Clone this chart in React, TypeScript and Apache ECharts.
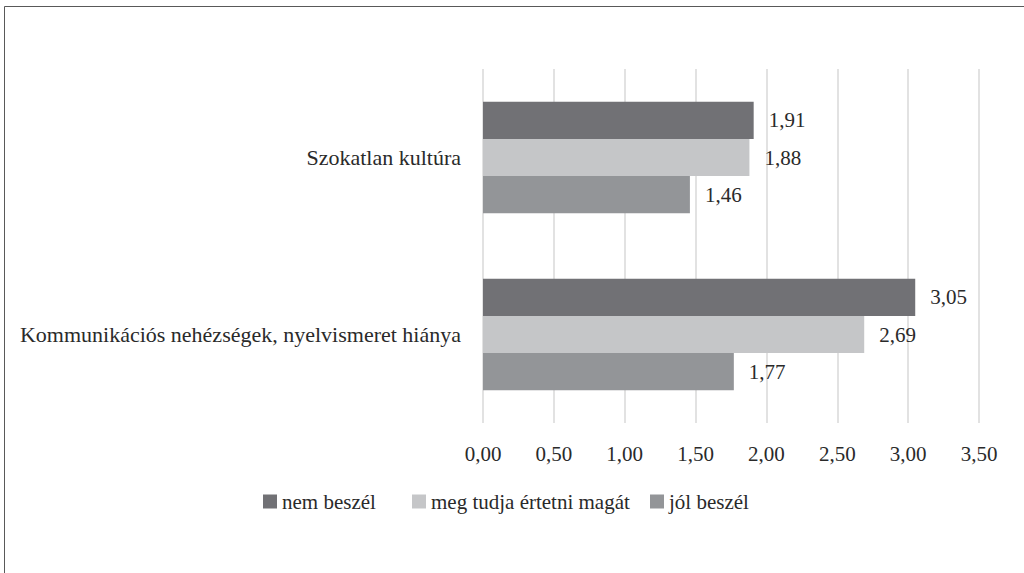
import React, { useEffect, useRef } from "react";
import * as echarts from "echarts";

const categories = ["Szokatlan kultúra", "Kommunikációs nehézségek, nyelvismeret hiánya"];
const seriesNames = ["nem beszél", "meg tudja értetni magát", "jól beszél"];
const nemBeszel = [1.91, 3.05];
const megTudja = [1.88, 2.69];
const jolBeszel = [1.46, 1.77];
const colors = ["#717175", "#c5c6c8", "#939598"];

const FONT = "Times New Roman, Liberation Serif, DejaVu Serif, serif";
const TEXT = "#2a2a2a";
const fmt = (v: number) => v.toFixed(2).replace(".", ",");

export default function App() {
  const ref = useRef<HTMLDivElement>(null);
  useEffect(() => {
    if (!ref.current) return;
    const chart = echarts.init(ref.current, undefined, { renderer: "svg" });
    const values = [nemBeszel, megTudja, jolBeszel];
    const legendLefts = [258, 407, 645];
    chart.setOption({
      animation: false,
      backgroundColor: "#ffffff",
      textStyle: { fontFamily: FONT },
      graphic: [
        {
          type: "rect",
          shape: { x: 4.5, y: 6.5, width: 1100, height: 700 },
          style: { fill: "none", stroke: "#595959", lineWidth: 1 },
          silent: true,
        },
      ],
      legend: seriesNames.map((name, i) => ({
        left: legendLefts[i],
        top: 486,
        itemWidth: 14,
        itemHeight: 14,
        itemGap: 0,
        icon: "rect",
        textStyle: { fontFamily: FONT, fontSize: 21, color: TEXT, padding: [0, 0, 0, 0] },
        data: [name],
      })),
      grid: { left: 483, right: 45, top: 69, bottom: 150, containLabel: false },
      xAxis: {
        type: "value",
        min: 0,
        max: 3.5,
        interval: 0.5,
        axisLine: { show: false },
        axisTick: { show: false },
        splitLine: { show: true, lineStyle: { color: "#d9d9d9", width: 1.5 } },
        axisLabel: {
          margin: 20,
          fontFamily: FONT,
          fontSize: 21,
          color: TEXT,
          formatter: (v: number) => fmt(v),
        },
      },
      yAxis: {
        type: "category",
        inverse: true,
        data: categories,
        axisLine: { show: false },
        axisTick: { show: false },
        axisLabel: { margin: 22, fontFamily: FONT, fontSize: 22, color: TEXT },
      },
      series: seriesNames.map((name, i) => ({
        name,
        type: "bar",
        data: values[i],
        barGap: "0%",
        barCategoryGap: "37%",
        itemStyle: { color: colors[i] },
        label: {
          show: true,
          position: "right",
          distance: 15,
          fontFamily: FONT,
          fontSize: 21,
          color: TEXT,
          formatter: (p: any) => fmt(p.value),
        },
      })),
    });
    return () => chart.dispose();
  }, []);
  return (
    <div
      ref={ref}
      style={{ position: "fixed", left: 0, top: 0, width: 1024, height: 573, background: "#fff" }}
    />
  );
}
